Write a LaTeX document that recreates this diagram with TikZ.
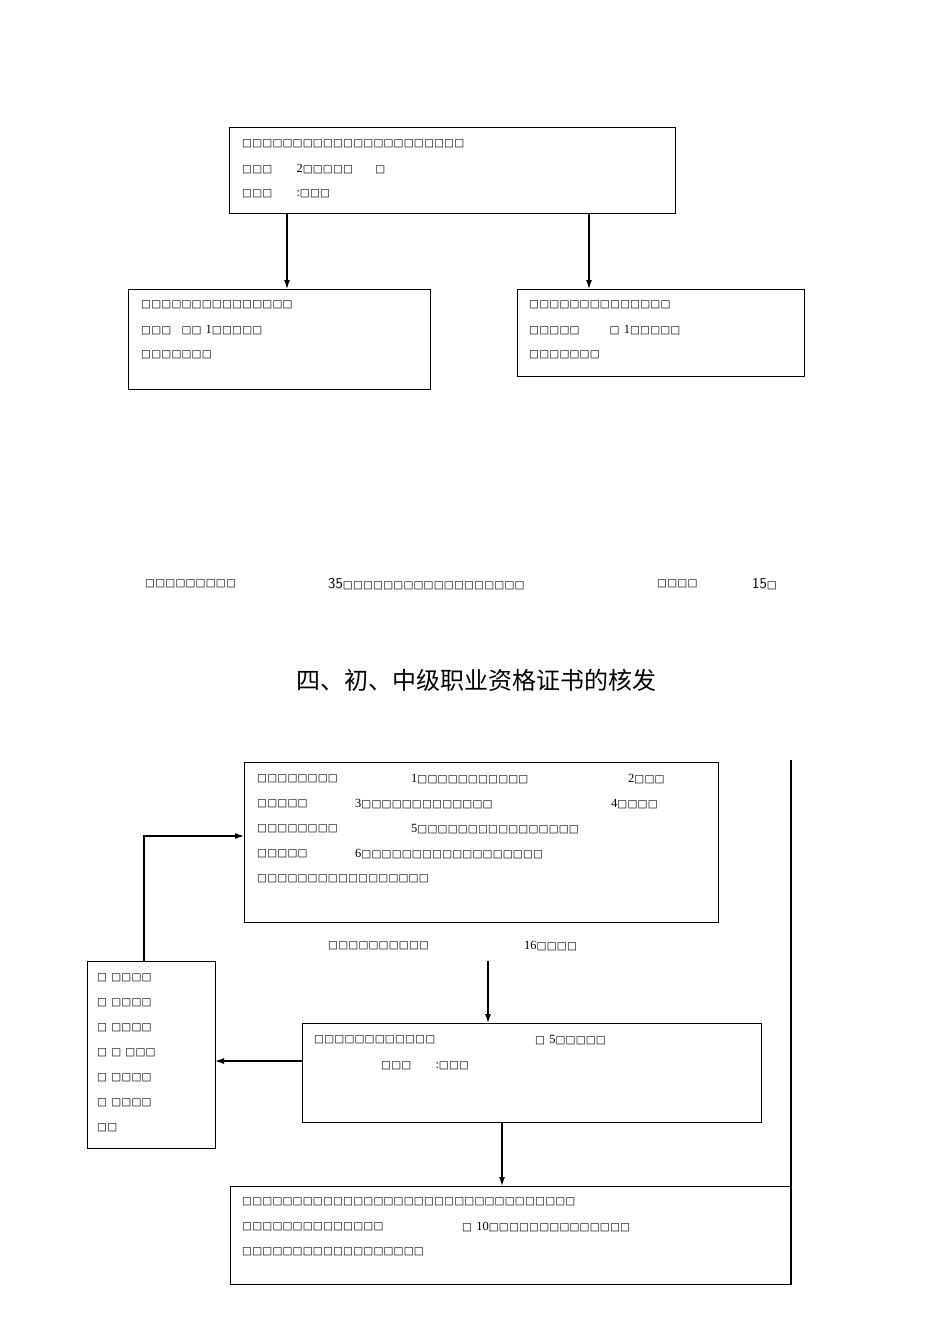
\documentclass[tikz,border=0pt]{standalone}
\usepackage{fontspec}
\usetikzlibrary{arrows.meta}
\newfontfamily\bxf{DejaVu Sans}
\newfontfamily\cjk{Noto Sans CJK SC}
\setmainfont{Liberation Serif}
\newcommand\q{\makebox[10.1pt][l]{\bxf\fontsize{10.5}{10.5}\selectfont □}}
\newcommand\Q[1]{\foreach\i in {1,...,#1}{\q}}
\begin{document}
\begin{tikzpicture}[x=1pt,y=-1pt,
  bx/.style={draw,line width=1.1pt},
  t/.style={anchor=west,inner sep=0pt,font=\fontsize{12.5}{12.5}\selectfont},
  ar/.style={-{Latex[length=9pt,width=6pt]},line width=1.2pt}]
\useasboundingbox (0,0) rectangle (950,1344);
% top
\node[bx,minimum width=446,minimum height=86,anchor=north west] (top) at (229,127) {};
\node[t] (t1) at (242,144) {\Q{22}};
\node[t] (t2) at (242,169) {\Q{3}\hspace{24pt}2\Q{5}\hspace{22pt}\q};
\node[t] (t3) at (242,194) {\Q{3}\hspace{24pt}:\Q{3}};
\node[bx,minimum width=302,minimum height=100,anchor=north west] (l) at (128,289) {};
\node[t] (l1) at (141,305) {\Q{15}};
\node[t] (l2) at (141,330) {\Q{3}\hspace{10pt}\Q{2}\hspace{4pt}1\Q{5}};
\node[t] (l3) at (141,355) {\Q{7}};
\node[bx,minimum width=287,minimum height=87,anchor=north west] (r) at (517,289) {};
\node[t] (r1) at (529,305) {\Q{14}};
\node[t] (r2) at (529,330) {\Q{5}\hspace{30pt}\q\hspace{4pt}1\Q{5}};
\node[t] (r3) at (529,355) {\Q{7}};
\draw[ar] (287,213) -- (287,289);
\draw[ar] (589,213) -- (589,289);
% middle line
\node[t] (m1) at (145,584) {\Q{9}};
\node[t,font=\sffamily\fontsize{15}{15}\selectfont] (m2) at (328,584) {35\Q{18}};
\node[t] (m3) at (657,584) {\Q{4}};
\node[t,font=\sffamily\fontsize{15}{15}\selectfont] (m4) at (752,584) {15\q};
\node[inner sep=0pt,font=\cjk\fontsize{24}{24}\selectfont] (title) at (476,680) {四、初、中级职业资格证书的核发};
% bottom
\draw[line width=1.1pt] (791,760) -- (791,1284);
\node[bx,minimum width=474,minimum height=160,anchor=north west] (A) at (244,762) {};
\node[t] at (257,779) {\Q{8}};
\node[t] at (411,779) {1\Q{11}};
\node[t] at (628,779) {2\Q{3}};
\node[t] at (257,804) {\Q{5}};
\node[t] at (355,804) {3\Q{13}};
\node[t] at (611,804) {4\Q{4}};
\node[t] at (257,829) {\Q{8}};
\node[t] at (411,829) {5\Q{16}};
\node[t] at (257,854) {\Q{5}};
\node[t] at (355,854) {6\Q{18}};
\node[t] at (257,879) {\Q{17}};
\node[t] (n1) at (328,946) {\Q{10}};
\node[t] (n2) at (524,946) {16\Q{4}};
\draw[ar] (488,961) -- (488,1023);
\node[bx,minimum width=459,minimum height=99,anchor=north west] (B) at (302,1023) {};
\node[t] at (314,1040) {\Q{12}};
\node[t] at (535,1040) {\q\hspace{4pt}5\Q{5}};
\node[t] at (381,1066) {\Q{3}\hspace{24pt}:\Q{3}};
\node[bx,minimum width=128,minimum height=187,anchor=north west] (C) at (87,961) {};
\foreach \yy/\s in {978/{\q\hspace{4pt}\Q{4}},1003/{\q\hspace{4pt}\Q{4}},1028/{\q\hspace{4pt}\Q{4}},1053/{\q\hspace{4pt}\q\hspace{4pt}\Q{3}},1078/{\q\hspace{4pt}\Q{4}},1103/{\q\hspace{4pt}\Q{4}},1128/{\Q{2}}}
  \node[t] at (97,\yy) {\s};
\draw[ar] (302,1061) -- (215,1061);
\draw[ar] (144,961) -- (144,836) -- (244,836);
\draw[ar] (502,1122) -- (502,1186);
\node[bx,minimum width=561,minimum height=98,anchor=north west] (D) at (230,1186) {};
\node[t] at (242,1202) {\Q{33}};
\node[t] at (242,1227) {\Q{14}};
\node[t] at (462,1227) {\q\hspace{4pt}10\Q{14}};
\node[t] at (242,1252) {\Q{18}};
\end{tikzpicture}
\end{document}
